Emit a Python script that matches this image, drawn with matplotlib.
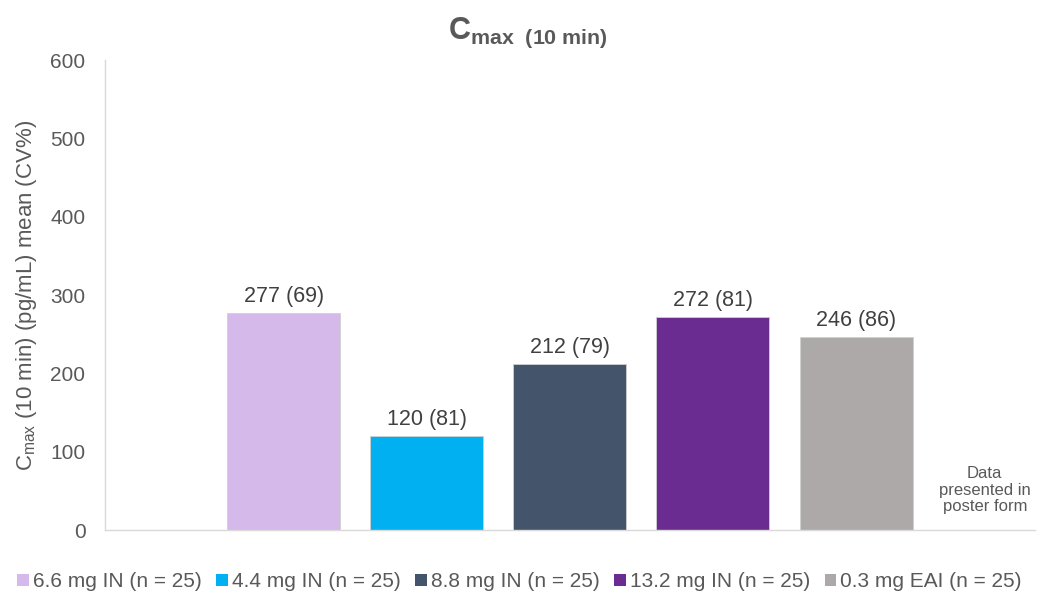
import matplotlib.pyplot as plt
from matplotlib.patches import Patch

plt.rcParams['font.family'] = ['Liberation Sans', 'DejaVu Sans']
plt.rcParams['mathtext.fontset'] = 'custom'
plt.rcParams['mathtext.rm'] = 'Liberation Sans'
plt.rcParams['mathtext.it'] = 'Liberation Sans'
plt.rcParams['mathtext.bf'] = 'Liberation Sans:bold'

groups = ['6.6 mg IN (n = 25)', '4.4 mg IN (n = 25)', '8.8 mg IN (n = 25)',
          '13.2 mg IN (n = 25)', '0.3 mg EAI (n = 25)']
means = [277, 120, 212, 272, 246]
cv = [69, 81, 79, 81, 86]
colors = ['#D5B9EA', '#00B0F0', '#44546A', '#6A2C91', '#ADA9A9']

grey = '#595959'

fig = plt.figure(figsize=(10.39, 5.95), dpi=100)
ax = fig.add_axes([0.101, 0.109, 0.895, 0.79])

x = list(range(len(means)))
bars = ax.bar(x, means, width=0.79, color=colors, edgecolor='#D0D0D0', linewidth=0.6)
for xi, m, c in zip(x, means, cv):
    ax.text(xi, m + 8, f'{m} ({c})', ha='center', va='bottom', fontsize=15.5, color='#404040')

ax.text(4.90, 51, 'Data\npresented in\nposter form', ha='center', va='center',
        fontsize=12, color=grey, linespacing=1.15)

ax.set_xlim(-1.25, 5.25)
ax.set_ylim(0, 600)
ax.set_yticks(range(0, 601, 100))
ax.set_xticks([])
ax.tick_params(axis='y', length=0, labelsize=15, labelcolor=grey, pad=14)
for s in ['top', 'right']:
    ax.spines[s].set_visible(False)
for s in ['left', 'bottom']:
    ax.spines[s].set_color('#D9D9D9')
    ax.spines[s].set_linewidth(1)

ax.set_ylabel(r'C$_{\rm max}$ (10 min) (pg/mL) mean (CV%)', fontsize=16, color=grey, labelpad=8)

fig.text(0.508, 0.945, r'$\mathbf{C}_{\mathbf{max\ \ (10\ min)}}$', ha='center', va='center',
         fontsize=22, color=grey)

handles = [Patch(facecolor=c, edgecolor='none') for c in colors]
fig.legend(handles, groups, loc='center', bbox_to_anchor=(0.5, 0.022), ncol=5, frameon=False,
           fontsize=15, labelcolor=grey, handlelength=0.55, handleheight=0.55,
           handletextpad=0.2, columnspacing=0.7)

fig.savefig('out.png', dpi=100)
